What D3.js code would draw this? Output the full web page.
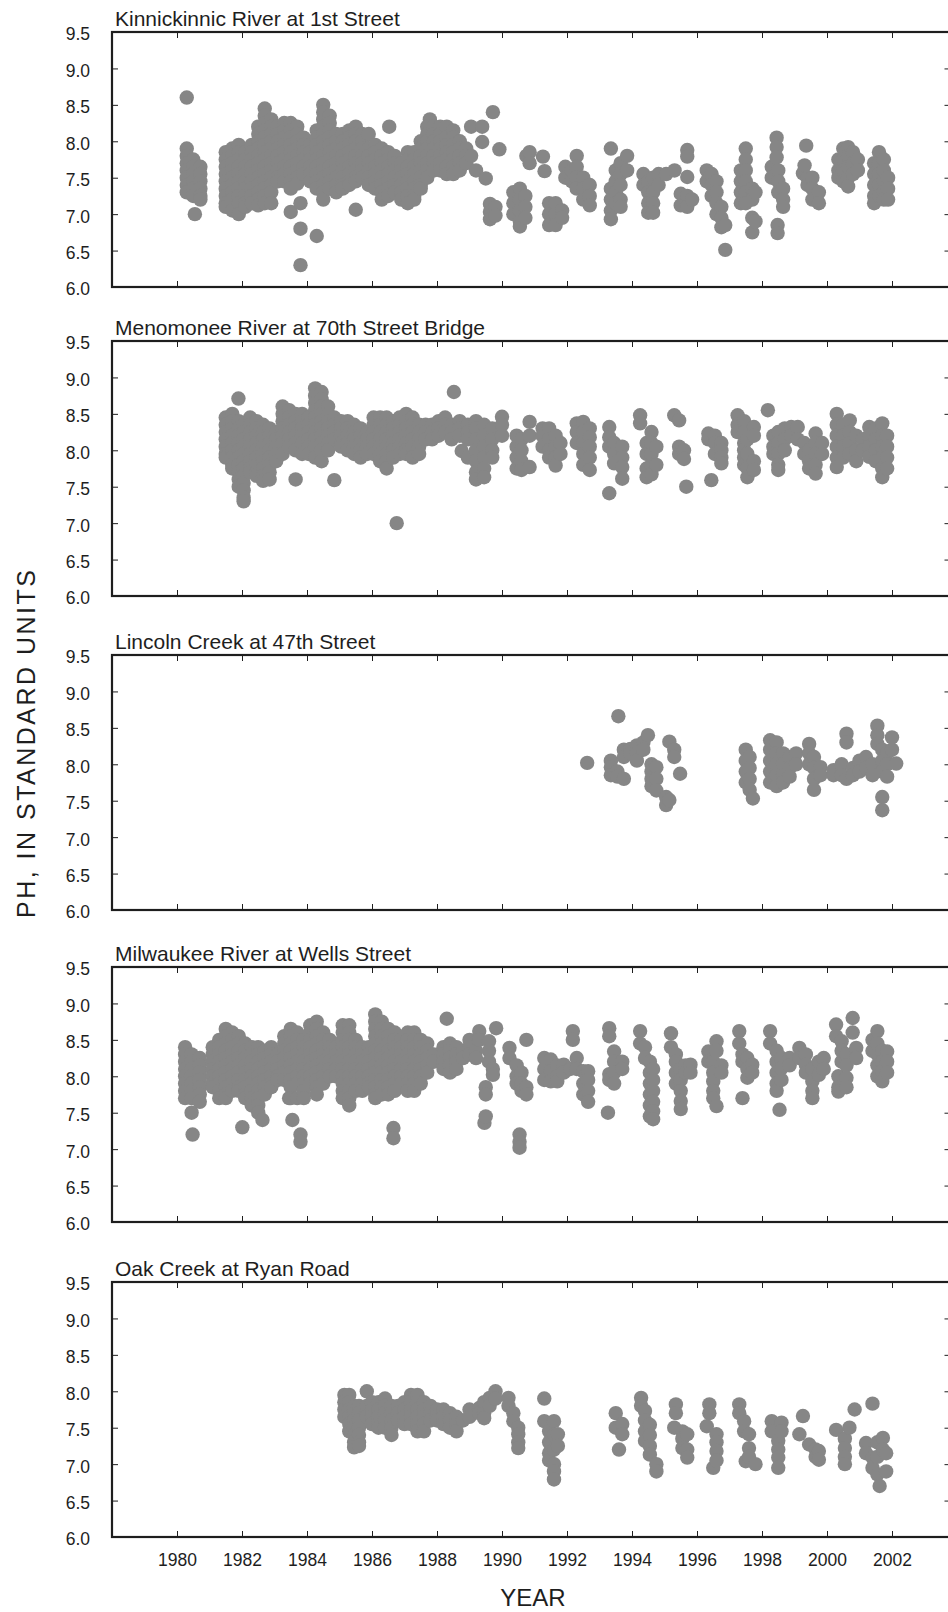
<!DOCTYPE html>
<html><head><meta charset="utf-8">
<script src="https://cdn.jsdelivr.net/npm/d3@7"></script>
<style>
body{margin:0;background:#fff}
svg{display:block}
text{font-family:"Liberation Sans",Arial,Helvetica,sans-serif;fill:#1e1e1e}
</style>
</head><body><svg id="chart" width="948" height="1612"></svg>
<script>
// ---------------- DATA ----------------
const stationNames = [
  "Kinnickinnic River at 1st Street",
  "Menomonee River at 70th Street Bridge",
  "Lincoln Creek at 47th Street",
  "Milwaukee River at Wells Street",
  "Oak Creek at Ryan Road"
];
const yearTicks = [1980,1982,1984,1986,1988,1990,1992,1994,1996,1998,2000,2002];
const phTicks = [6.0,6.5,7.0,7.5,8.0,8.5,9.0,9.5];
const xTitle = "YEAR";
const yTitle = "PH, IN STANDARD UNITS";

// each entry: [decimal year, [pH values read at that time]]
const kinnickinnic = [
  [1980.3,[8.6,7.9,7.8,7.7,7.6,7.5,7.4,7.3]],
  [1980.5,[7.75,7.65,7.55,7.45,7.35,7.25]],
  [1980.55,[7.0]],
  [1980.72,[7.65,7.55,7.45,7.35,7.25,7.2]],
  [1981.5,[7.85,7.75,7.65,7.55,7.45,7.35,7.25,7.15,7.1]],
  [1981.7,[7.9,7.8,7.7,7.6,7.5,7.4,7.3,7.2,7.05]],
  [1981.9,[7.95,7.85,7.75,7.65,7.55,7.45,7.35,7.25,7.15,7.0]],
  [1982.1,[7.85,7.75,7.65,7.55,7.45,7.35,7.25,7.15,7.1]],
  [1982.3,[7.95,7.85,7.75,7.65,7.55,7.45,7.35,7.25,7.15]],
  [1982.5,[8.2,8.1,8.0,7.9,7.8,7.7,7.6,7.5,7.4,7.3,7.2,7.12]],
  [1982.7,[8.45,8.35,8.25,8.15,8.05,7.95,7.85,7.75,7.65,7.55,7.45,7.35,7.25,7.15]],
  [1982.9,[8.3,8.2,8.1,8.0,7.9,7.8,7.7,7.6,7.5,7.4,7.3,7.15]],
  [1983.1,[8.2,8.1,8.0,7.9,7.8,7.7,7.6,7.5,7.45]],
  [1983.3,[8.25,8.15,8.05,7.95,7.85,7.75,7.65,7.55,7.45]],
  [1983.5,[8.25,8.15,8.05,7.95,7.85,7.75,7.65,7.55,7.45,7.35,7.03]],
  [1983.7,[8.2,8.1,8.0,7.9,7.8,7.7,7.6,7.5,7.42]],
  [1983.8,[7.15,6.8,6.3]],
  [1983.9,[8.05,7.95,7.85,7.75,7.65,7.55]],
  [1984.1,[7.95,7.85,7.75,7.65,7.55,7.45]],
  [1984.3,[8.15,8.05,7.95,7.85,7.75,7.65,7.55,7.45,7.35,6.7]],
  [1984.5,[8.5,8.4,8.3,8.2,8.1,8.0,7.9,7.8,7.7,7.6,7.5,7.4,7.3,7.2]],
  [1984.7,[8.35,8.25,8.15,8.05,7.95,7.85,7.75,7.65,7.55,7.45,7.35]],
  [1984.9,[8.1,8.0,7.9,7.8,7.7,7.6,7.5,7.4,7.3]],
  [1985.1,[8.1,8.0,7.9,7.8,7.7,7.6,7.5,7.4,7.35]],
  [1985.3,[8.15,8.05,7.95,7.85,7.75,7.65,7.55,7.45,7.4]],
  [1985.5,[8.2,8.1,8.0,7.9,7.8,7.7,7.6,7.5,7.45,7.06]],
  [1985.7,[8.1,8.0,7.9,7.8,7.7,7.6,7.5]],
  [1985.9,[8.1,7.9,7.8,7.7,7.6,7.5,7.4]],
  [1986.1,[7.95,7.85,7.75,7.65,7.55,7.45,7.35]],
  [1986.3,[7.9,7.8,7.7,7.6,7.5,7.4,7.3,7.2]],
  [1986.53,[8.2]],
  [1986.5,[7.85,7.75,7.65,7.55,7.45,7.35,7.25]],
  [1986.7,[7.8,7.7,7.6,7.5,7.4,7.3]],
  [1986.9,[7.7,7.6,7.5,7.4,7.3,7.2]],
  [1987.1,[7.85,7.75,7.65,7.55,7.45,7.35,7.25,7.15]],
  [1987.3,[7.85,7.75,7.65,7.55,7.45,7.35,7.25,7.2]],
  [1987.5,[8.0,7.9,7.8,7.7,7.6,7.5,7.4,7.35]],
  [1987.78,[8.3]],
  [1987.7,[8.2,8.1,8.0,7.9,7.8,7.7,7.6,7.5]],
  [1987.9,[8.2,8.1,8.0,7.9,7.8,7.7,7.6]],
  [1988.1,[8.2,8.1,8.0,7.9,7.8,7.7,7.6]],
  [1988.3,[8.2,8.05,7.95,7.85,7.75,7.65,7.55]],
  [1988.5,[8.15,8.05,7.95,7.85,7.75,7.65,7.55]],
  [1988.7,[8.0,7.9,7.8,7.7,7.6]],
  [1988.9,[7.9,7.8,7.7]],
  [1989.05,[8.2,7.8]],
  [1989.2,[7.6]],
  [1989.39,[8.2,7.99]],
  [1989.5,[7.49]],
  [1989.63,[7.14,7.03,6.93]],
  [1989.72,[8.4]],
  [1989.8,[7.1,6.98]],
  [1989.92,[7.89]],
  [1990.35,[7.3,7.15,7.0]],
  [1990.55,[7.35,7.2,7.05,6.9,6.83]],
  [1990.72,[7.25,7.1,6.95]],
  [1990.75,[7.8]],
  [1990.85,[7.85,7.7]],
  [1991.26,[7.79]],
  [1991.31,[7.59]],
  [1991.45,[7.15,7.0,6.85]],
  [1991.65,[7.15,7.0,6.85]],
  [1991.85,[7.05,6.95]],
  [1991.95,[7.65,7.5]],
  [1992.15,[7.6,7.45]],
  [1992.3,[7.8,7.65,7.5,7.35]],
  [1992.5,[7.5,7.35,7.2]],
  [1992.7,[7.4,7.25,7.12]],
  [1993.35,[7.9,7.35,7.2,7.05,6.93]],
  [1993.5,[7.6,7.45,7.3,7.15]],
  [1993.65,[7.7,7.55,7.4,7.2,7.1]],
  [1993.85,[7.8,7.6]],
  [1994.35,[7.55,7.4]],
  [1994.5,[7.45,7.3,7.15,7.02]],
  [1994.65,[7.5,7.3,7.15,7.02]],
  [1994.82,[7.55,7.4]],
  [1995.05,[7.55]],
  [1995.31,[7.6]],
  [1995.5,[7.28,7.12]],
  [1995.7,[7.88,7.79,7.51,7.25,7.1]],
  [1995.85,[7.2]],
  [1996.3,[7.6,7.45]],
  [1996.45,[7.55,7.4,7.25]],
  [1996.6,[7.45,7.3,7.15,7.0]],
  [1996.75,[7.1,6.95,6.82]],
  [1996.87,[6.85,6.51]],
  [1997.35,[7.6,7.45,7.3,7.15]],
  [1997.5,[7.9,7.75,7.6,7.45,7.3,7.15]],
  [1997.7,[7.35,7.2,6.95,6.75]],
  [1997.8,[7.3,6.9]],
  [1998.3,[7.65,7.5]],
  [1998.45,[8.05,7.92,7.78]],
  [1998.5,[7.6,7.45,7.3]],
  [1998.48,[6.85,6.74]],
  [1998.65,[7.35,7.2,7.1]],
  [1999.26,[7.56]],
  [1999.31,[7.67]],
  [1999.36,[7.94]],
  [1999.4,[7.5,7.4]],
  [1999.55,[7.5,7.35,7.2]],
  [1999.75,[7.3,7.15]],
  [2000.35,[7.75,7.6,7.5]],
  [2000.5,[7.9,7.75,7.6,7.45]],
  [2000.65,[7.92,7.8,7.65,7.5,7.38]],
  [2000.8,[7.85,7.7,7.55]],
  [2000.95,[7.75,7.6]],
  [2001.45,[7.7,7.55,7.4,7.25,7.15]],
  [2001.6,[7.85,7.7,7.55,7.4,7.25]],
  [2001.75,[7.75,7.6,7.45,7.3,7.2]],
  [2001.88,[7.5,7.35,7.2]]
];

const menomonee = [
  [1981.5,[8.45,8.35,8.25,8.15,8.05,7.95,7.9]],
  [1981.7,[8.5,8.4,8.3,8.2,8.1,8.0,7.9,7.8,7.75]],
  [1981.89,[8.71]],
  [1981.9,[8.4,8.3,8.2,8.1,8.0,7.9,7.8,7.7,7.6,7.5]],
  [1982.05,[8.35,8.25,8.15,8.05,7.95,7.85,7.75,7.65,7.55,7.45,7.35,7.3]],
  [1982.25,[8.45,8.35,8.25,8.15,8.05,7.95,7.85,7.75,7.7]],
  [1982.45,[8.4,8.3,8.2,8.1,8.0,7.9,7.8,7.7,7.65]],
  [1982.65,[8.35,8.25,8.15,8.05,7.95,7.85,7.75,7.65,7.58]],
  [1982.85,[8.3,8.2,8.1,8.0,7.9,7.8,7.7,7.6]],
  [1983.05,[8.25,8.15,8.05,7.95,7.85]],
  [1983.25,[8.6,8.5,8.4,8.3,8.2,8.1,7.95]],
  [1983.45,[8.55,8.45,8.35,8.25,8.15,8.05]],
  [1983.65,[8.5,8.4,8.3,8.2,8.1,8.0,7.6]],
  [1983.85,[8.5,8.4,8.3,8.2,8.1,7.95]],
  [1984.05,[8.45,8.35,8.25,8.15,8.05,7.95]],
  [1984.25,[8.85,8.75,8.65,8.55,8.45,8.35,8.25,8.15,8.05,7.9]],
  [1984.45,[8.8,8.7,8.6,8.5,8.4,8.3,8.2,8.1,8.0,7.85]],
  [1984.65,[8.6,8.5,8.4,8.3,8.2,8.1,8.0]],
  [1984.84,[8.45,8.35,8.25,8.15,7.59]],
  [1985.05,[8.4,8.3,8.2,8.1,8.05]],
  [1985.25,[8.4,8.3,8.2,8.1,8.0]],
  [1985.45,[8.35,8.25,8.15,8.05,7.95]],
  [1985.65,[8.3,8.2,8.1,8.0,7.9]],
  [1985.85,[8.25,8.15,8.05,7.95]],
  [1986.05,[8.45,8.35,8.25,8.15,8.05,7.95]],
  [1986.25,[8.45,8.35,8.25,8.15,8.05,7.95,7.85]],
  [1986.45,[8.45,8.35,8.25,8.15,8.05,7.95,7.85,7.75]],
  [1986.65,[8.4,8.3,8.2,8.1,8.0,7.9]],
  [1986.76,[7.0]],
  [1986.85,[8.45,8.35,8.25,8.15,8.05,7.95]],
  [1987.05,[8.5,8.4,8.3,8.2,8.1,8.0,7.95]],
  [1987.25,[8.45,8.35,8.25,8.15,8.05,7.9]],
  [1987.45,[8.35,8.25,8.15,8.05,7.95]],
  [1987.65,[8.35,8.25,8.15]],
  [1987.85,[8.35,8.25,8.15]],
  [1988.05,[8.4,8.3,8.2]],
  [1988.25,[8.45,8.35,8.25]],
  [1988.52,[8.8]],
  [1988.45,[8.35,8.25,8.15]],
  [1988.76,[7.99]],
  [1988.7,[8.4,8.3,8.2]],
  [1988.95,[8.35,8.25,8.15,7.9]],
  [1989.2,[8.4,8.3,8.15,8.0,7.85,7.7,7.6]],
  [1989.45,[8.35,8.2,8.05,7.9,7.75,7.63]],
  [1989.7,[8.3,8.15,8.0,7.9]],
  [1990.0,[8.46,8.35,8.2]],
  [1990.45,[8.2,8.05,7.9,7.75]],
  [1990.6,[8.15,8.0,7.85,7.73]],
  [1990.85,[8.39,8.2,7.77]],
  [1991.25,[8.3,8.2,8.05]],
  [1991.45,[8.3,8.15,8.0,7.9]],
  [1991.65,[8.2,8.05,7.9,7.79]],
  [1991.8,[8.1,7.95]],
  [1992.3,[8.37,8.25,8.1]],
  [1992.5,[8.39,8.25,8.1,7.95,7.8]],
  [1992.7,[8.3,8.18,8.05,7.9,7.73]],
  [1993.3,[8.32,8.18,8.05,7.41]],
  [1993.45,[8.1,7.95,7.82]],
  [1993.7,[8.05,7.9,7.77,7.61]],
  [1994.25,[8.48,8.37]],
  [1994.45,[8.1,7.95,7.75,7.63]],
  [1994.6,[8.25,8.1,7.95,7.8,7.67]],
  [1994.75,[8.05,7.8]],
  [1995.3,[8.48]],
  [1995.45,[8.41,8.05,7.95]],
  [1995.6,[8.0,7.88]],
  [1995.67,[7.5]],
  [1996.35,[8.23,8.15]],
  [1996.44,[7.59]],
  [1996.55,[8.2,8.1,7.95]],
  [1996.75,[8.1,8.0,7.9,7.82]],
  [1997.25,[8.48,8.35,8.25]],
  [1997.45,[8.4,8.25,8.1,8.0,7.9,7.8]],
  [1997.55,[8.15,7.95,7.75,7.63]],
  [1997.75,[8.32,8.2,7.85,7.73]],
  [1998.18,[8.55]],
  [1998.35,[8.2,8.05,7.95]],
  [1998.5,[8.25,8.1,7.95,7.8,7.73]],
  [1998.7,[8.3,8.15,8.0]],
  [1998.9,[8.32,8.2]],
  [1999.1,[8.32,8.15]],
  [1999.3,[8.1,7.95]],
  [1999.45,[8.0,7.85,7.75]],
  [1999.65,[8.23,8.1,7.95,7.8,7.68]],
  [1999.85,[8.1,7.95]],
  [2000.3,[8.5,8.35,8.2,8.05,7.9,7.77]],
  [2000.5,[8.35,8.2,8.05,7.9]],
  [2000.7,[8.41,8.25,8.1,7.95]],
  [2000.9,[8.2,8.0,7.85]],
  [2001.1,[8.15,8.0]],
  [2001.3,[8.32,8.2,8.05,7.91]],
  [2001.5,[8.3,8.15,8.0,7.85]],
  [2001.7,[8.37,8.2,8.05,7.9,7.75,7.63]],
  [2001.85,[8.2,8.05,7.9,7.75]]
];

const lincoln = [
  [1992.62,[8.02]],
  [1993.35,[8.05,7.96,7.85]],
  [1993.55,[7.9,7.83]],
  [1993.58,[8.66]],
  [1993.75,[8.2,8.1,7.8]],
  [1993.95,[8.21,8.15]],
  [1994.15,[8.26,8.15,8.05]],
  [1994.35,[8.3,8.2]],
  [1994.49,[8.4]],
  [1994.6,[8.0,7.9,7.8,7.7]],
  [1994.75,[7.96,7.8,7.64]],
  [1995.05,[7.55,7.44]],
  [1995.15,[8.31,7.51]],
  [1995.3,[8.2,8.1]],
  [1995.48,[7.87]],
  [1997.5,[8.2,8.05,7.9,7.75]],
  [1997.62,[8.1,7.95,7.8,7.65]],
  [1997.72,[7.53]],
  [1998.25,[8.33,8.2,8.05,7.9,7.75]],
  [1998.45,[8.3,8.15,8.0,7.85,7.7]],
  [1998.65,[8.15,8.0,7.85,7.75]],
  [1998.85,[8.1,7.95,7.83]],
  [1999.05,[8.15,8.0]],
  [1999.45,[8.28,8.15,8.0]],
  [1999.6,[8.1,7.95,7.8,7.65]],
  [1999.8,[7.96,7.85]],
  [2000.2,[7.92,7.85]],
  [2000.45,[8.0,7.85]],
  [2000.6,[8.42,8.3,7.8]],
  [2000.8,[7.95,7.85]],
  [2001.0,[8.05,7.9]],
  [2001.2,[8.1,7.95]],
  [2001.4,[8.0,7.85]],
  [2001.55,[8.53,8.4,8.28]],
  [2001.7,[8.2,8.05,7.9,7.55,7.37]],
  [2001.85,[8.15,8.0,7.83]],
  [2002.0,[8.37,8.2]],
  [2002.13,[8.01]]
];

const milwaukee = [
  [1980.25,[8.4,8.3,8.2,8.1,8.0,7.9,7.8,7.7]],
  [1980.45,[8.3,8.2,8.1,8.0,7.9,7.8,7.7,7.5]],
  [1980.48,[7.2]],
  [1980.7,[8.25,8.15,8.05,7.95,7.85,7.75,7.65]],
  [1981.1,[8.4,8.3,8.2,8.1,8.0,7.9,7.85]],
  [1981.3,[8.5,8.4,8.3,8.2,8.1,8.0,7.9,7.8,7.7]],
  [1981.5,[8.65,8.55,8.45,8.35,8.25,8.15,8.05,7.95,7.85,7.75,7.7]],
  [1981.7,[8.6,8.5,8.4,8.3,8.2,8.1,8.0,7.9,7.8]],
  [1981.9,[8.55,8.45,8.35,8.25,8.15,8.05,7.95,7.85,7.8]],
  [1982.01,[7.3]],
  [1982.1,[8.45,8.35,8.25,8.15,8.05,7.95,7.85,7.75,7.7]],
  [1982.3,[8.4,8.3,8.2,8.1,8.0,7.9,7.8,7.7,7.6]],
  [1982.5,[8.4,8.3,8.2,8.1,8.0,7.9,7.8,7.7,7.6,7.5]],
  [1982.63,[7.4]],
  [1982.7,[8.35,8.25,8.15,8.05,7.95,7.85,7.75]],
  [1982.9,[8.4,8.3,8.2,8.1,8.0,7.9,7.85]],
  [1983.1,[8.3,8.2,8.1,8.0,7.95]],
  [1983.3,[8.55,8.45,8.35,8.25,8.15,8.05,7.95]],
  [1983.45,[7.7]],
  [1983.5,[8.65,8.55,8.45,8.35,8.25,8.15,8.05,7.95,7.85,7.7]],
  [1983.55,[7.4]],
  [1983.7,[8.6,8.5,8.4,8.3,8.2,8.1,8.0,7.9,7.7]],
  [1983.8,[7.2,7.1]],
  [1983.9,[8.5,8.4,8.3,8.2,8.1,8.0,7.9,7.8,7.7]],
  [1984.1,[8.7,8.6,8.5,8.4,8.3,8.2,8.1,8.0,7.9]],
  [1984.3,[8.75,8.65,8.55,8.45,8.35,8.25,8.15,8.05,7.95,7.85,7.75]],
  [1984.5,[8.6,8.5,8.4,8.3,8.2,8.1,8.0,7.9]],
  [1984.7,[8.5,8.4,8.3,8.2,8.1,8.0]],
  [1984.9,[8.4,8.3,8.2,8.1,8.0]],
  [1985.1,[8.7,8.6,8.5,8.4,8.3,8.2,8.1,8.0,7.9,7.8,7.7]],
  [1985.3,[8.7,8.6,8.5,8.4,8.3,8.2,8.1,8.0,7.9,7.8,7.7,7.6]],
  [1985.5,[8.5,8.4,8.3,8.2,8.1,8.0,7.9,7.8]],
  [1985.7,[8.4,8.3,8.2,8.1,8.0,7.9,7.8]],
  [1985.9,[8.4,8.3,8.2,8.1,8.0,7.9,7.85]],
  [1986.1,[8.85,8.75,8.65,8.55,8.45,8.35,8.25,8.15,8.05,7.95,7.85,7.75,7.7]],
  [1986.3,[8.75,8.65,8.55,8.45,8.35,8.25,8.15,8.05,7.95,7.85,7.75]],
  [1986.5,[8.65,8.55,8.45,8.35,8.25,8.15,8.05,7.95,7.85,7.75]],
  [1986.66,[7.29,7.15]],
  [1986.7,[8.6,8.5,8.4,8.3,8.2,8.1,8.0,7.9,7.8]],
  [1986.9,[8.5,8.4,8.3,8.2,8.1,8.0,7.9]],
  [1987.1,[8.6,8.5,8.4,8.3,8.2,8.1,8.0,7.9,7.8]],
  [1987.3,[8.6,8.5,8.4,8.3,8.2,8.1,8.0,7.9,7.8]],
  [1987.5,[8.5,8.4,8.3,8.2,8.1,8.0,7.9]],
  [1987.7,[8.45,8.35,8.25,8.15,8.05]],
  [1987.9,[8.3,8.2]],
  [1988.2,[8.4,8.3,8.2,8.1]],
  [1988.3,[8.79]],
  [1988.4,[8.45,8.35,8.25,8.15,8.05]],
  [1988.6,[8.4,8.3,8.2,8.1]],
  [1988.8,[8.35,8.25]],
  [1989.0,[8.5,8.4,8.3]],
  [1989.2,[8.35,8.25]],
  [1989.3,[8.62,8.5]],
  [1989.46,[7.36]],
  [1989.5,[7.85,7.75,7.45]],
  [1989.6,[8.48,8.35,8.2]],
  [1989.72,[8.1,8.02]],
  [1989.82,[8.66]],
  [1990.23,[8.39,8.25]],
  [1990.45,[8.15,8.0,7.9]],
  [1990.54,[7.2,7.1,7.02]],
  [1990.6,[8.05,7.9,7.8]],
  [1990.75,[8.5,7.85,7.75]],
  [1991.3,[8.25,8.1,7.95]],
  [1991.5,[8.23,8.07,7.93]],
  [1991.7,[8.15,8.0,7.93]],
  [1991.9,[8.16,8.05]],
  [1992.1,[8.1]],
  [1992.18,[8.62,8.5]],
  [1992.3,[8.25,8.1]],
  [1992.5,[8.07,7.9,7.75]],
  [1992.65,[8.07,7.95,7.8,7.65]],
  [1993.26,[7.5]],
  [1993.3,[8.66,8.55,8.03,7.95]],
  [1993.45,[8.34,8.2,8.05,7.9]],
  [1993.7,[8.2,8.1]],
  [1994.25,[8.62,8.45]],
  [1994.4,[8.4,8.25]],
  [1994.55,[8.2,8.05,7.9,7.75,7.6,7.45]],
  [1994.65,[8.1,7.95,7.8,7.65,7.52,7.41]],
  [1995.2,[8.59,8.4]],
  [1995.35,[8.3,8.2,8.05,7.9]],
  [1995.5,[8.1,7.95,7.8,7.66,7.55]],
  [1995.65,[8.15,8.05]],
  [1995.8,[8.16,8.05]],
  [1996.35,[8.34,8.2]],
  [1996.5,[8.2,8.05,7.93,7.8,7.7]],
  [1996.6,[8.48,8.35,7.59]],
  [1996.75,[8.15,8.05]],
  [1997.3,[8.62,8.45]],
  [1997.4,[8.3,8.2,7.7]],
  [1997.55,[8.25,8.1,7.98]],
  [1997.7,[8.16,8.05]],
  [1998.25,[8.62,8.45]],
  [1998.45,[8.35,8.2,8.05,7.9,7.8]],
  [1998.54,[7.54]],
  [1998.6,[8.25,8.11,7.95]],
  [1998.85,[8.25,8.15]],
  [1999.15,[8.39,8.25]],
  [1999.35,[8.3,8.16,8.05]],
  [1999.55,[8.1,7.93,7.8,7.7]],
  [1999.75,[8.2,8.02]],
  [1999.9,[8.25,8.1]],
  [2000.28,[8.71,8.55]],
  [2000.35,[8.0,7.85,7.79]],
  [2000.45,[8.48,8.35,8.2]],
  [2000.6,[8.3,8.15,7.98,7.85]],
  [2000.79,[8.8,8.6]],
  [2000.9,[8.39,8.25]],
  [2001.4,[8.5,8.35]],
  [2001.55,[8.62,8.45,8.3,8.15,8.0]],
  [2001.7,[8.35,8.2,8.07,7.93]],
  [2001.85,[8.34,8.2,8.05]]
];

const oak = [
  [1985.15,[7.95,7.85,7.75,7.65]],
  [1985.3,[7.95,7.85,7.75,7.65,7.55,7.45]],
  [1985.45,[7.8,7.7,7.6,7.5,7.4,7.3,7.23]],
  [1985.6,[7.8,7.7,7.6,7.5,7.4,7.3,7.25]],
  [1985.84,[8.0,7.8,7.7,7.65]],
  [1986.0,[7.85,7.75,7.65,7.55]],
  [1986.2,[7.85,7.75,7.65,7.55,7.5]],
  [1986.4,[7.9,7.8,7.7,7.6,7.5]],
  [1986.6,[7.8,7.7,7.6,7.5,7.4]],
  [1986.8,[7.8,7.7,7.6]],
  [1987.0,[7.85,7.75,7.65,7.55]],
  [1987.2,[7.95,7.85,7.75,7.65,7.55]],
  [1987.4,[7.95,7.85,7.75,7.65,7.55,7.45]],
  [1987.6,[7.85,7.75,7.65,7.55,7.45]],
  [1987.8,[7.8,7.7,7.6]],
  [1988.0,[7.75,7.65,7.6]],
  [1988.2,[7.75,7.65,7.55]],
  [1988.4,[7.7,7.6,7.5]],
  [1988.6,[7.65,7.55,7.45]],
  [1988.8,[7.6]],
  [1989.0,[7.75,7.65]],
  [1989.3,[7.77,7.7]],
  [1989.45,[7.85,7.7,7.63]],
  [1989.62,[7.91,7.8]],
  [1989.8,[8.0,7.9]],
  [1990.2,[7.91,7.8]],
  [1990.35,[7.7,7.59]],
  [1990.5,[7.5,7.41,7.3,7.22]],
  [1991.3,[7.9,7.59]],
  [1991.45,[7.45,7.3,7.15,7.05]],
  [1991.6,[7.59,7.4,7.2,7.0,6.9,6.79]],
  [1991.72,[7.41,7.25]],
  [1993.5,[7.7,7.5]],
  [1993.6,[7.2]],
  [1993.7,[7.55,7.41]],
  [1994.28,[7.91,7.8]],
  [1994.4,[7.73,7.6,7.45,7.32]],
  [1994.55,[7.54,7.4,7.25,7.13]],
  [1994.75,[7.0,6.9]],
  [1995.3,[7.5]],
  [1995.35,[7.82,7.7]],
  [1995.55,[7.45,7.35,7.22]],
  [1995.7,[7.41,7.2,7.09]],
  [1996.3,[7.52]],
  [1996.38,[7.82,7.7]],
  [1996.5,[6.95]],
  [1996.6,[7.41,7.3,7.18,7.05]],
  [1997.3,[7.82,7.7]],
  [1997.45,[7.59,7.45]],
  [1997.5,[7.04]],
  [1997.6,[7.41,7.22,7.1]],
  [1997.8,[7.0]],
  [1998.3,[7.59,7.45]],
  [1998.5,[7.32,7.2,7.09,6.95]],
  [1998.6,[7.57,7.45]],
  [1999.15,[7.41]],
  [1999.26,[7.66]],
  [1999.45,[7.27]],
  [1999.65,[7.2,7.1]],
  [1999.75,[7.18,7.06]],
  [2000.28,[7.47]],
  [2000.55,[7.35,7.22,7.1,7.0]],
  [2000.69,[7.5]],
  [2000.85,[7.75]],
  [2001.2,[7.29,7.15]],
  [2001.4,[7.83,7.09,6.95]],
  [2001.55,[7.3,7.1,6.86]],
  [2001.62,[6.7]],
  [2001.72,[7.36,7.2]],
  [2001.82,[7.15,6.9]]
];

const allSeries = [kinnickinnic, menomonee, lincoln, milwaukee, oak];

// ---------------- LAYOUT ----------------
const frameLeft = 112, frameRight = 950.5;
const panelTops = [32, 341, 655, 967, 1282];
const panelH = 255;
const dotR = 7.2;
const dotColor = "#868686";
const inkColor = "#1e1e1e";

const svg = d3.select("#chart");
const x = d3.scaleLinear().domain([1978, 2003.8]).range([frameLeft, frameRight]);

allSeries.forEach((series, i) => {
  const top = panelTops[i];
  const y = d3.scaleLinear().domain([6, 9.5]).range([top + panelH, top]);
  const g = svg.append("g");

  const points = series.flatMap(([yr, vals]) => vals.map(v => ({yr, v})));

  g.append("g").selectAll("circle").data(points).join("circle")
    .attr("cx", d => x(d.yr)).attr("cy", d => y(d.v)).attr("r", dotR)
    .attr("fill", dotColor);

  const left = g.append("g").attr("transform", `translate(${frameLeft},0)`)
    .call(d3.axisLeft(y).tickValues(phTicks).tickSize(-6).tickPadding(22).tickFormat(d3.format(".1f")));
  left.selectAll("text").attr("font-size", 17.5).attr("dy", "0.45em").style("fill", inkColor);

  g.append("g").attr("transform", `translate(${frameRight},0)`)
    .call(d3.axisRight(y).tickValues(phTicks).tickSize(-6).tickFormat(""));

  g.append("g").attr("transform", `translate(0,${top})`)
    .call(d3.axisTop(x).tickValues(yearTicks).tickSize(-6).tickFormat(""));

  const bottom = g.append("g").attr("transform", `translate(0,${top + panelH})`)
    .call(d3.axisBottom(x).tickValues(yearTicks).tickSize(-6).tickPadding(17)
      .tickFormat(i === allSeries.length - 1 ? d3.format("d") : ""));
  bottom.selectAll("text").attr("font-size", 17.5).style("fill", inkColor);

  g.selectAll(".domain").remove();
  g.selectAll(".tick line").attr("stroke", inkColor).attr("stroke-width", 1);

  g.append("rect").attr("x", frameLeft).attr("y", top)
    .attr("width", frameRight - frameLeft).attr("height", panelH)
    .attr("fill", "none").attr("stroke", inkColor).attr("stroke-width", 2.2);

  g.append("text").attr("x", frameLeft + 3).attr("y", top - 6)
    .attr("font-size", 21).text(stationNames[i]);
});

svg.append("text").attr("x", 533).attr("y", 1606).attr("text-anchor", "middle")
  .attr("font-size", 24).text(xTitle);
svg.append("text").attr("transform", "translate(35,744) rotate(-90)")
  .attr("text-anchor", "middle").attr("font-size", 25)
  .attr("textLength", 348).attr("lengthAdjust", "spacing").text(yTitle);
</script>
</body></html>
